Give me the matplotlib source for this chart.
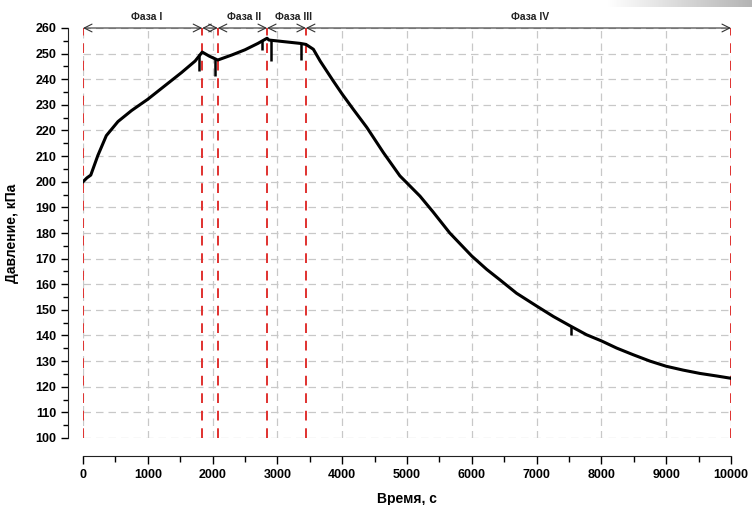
import numpy as np
import matplotlib
matplotlib.use('Agg')
import matplotlib.pyplot as plt
from matplotlib.ticker import MultipleLocator
from matplotlib.colors import LinearSegmentedColormap

plt.rcParams['font.family'] = ['Liberation Sans', 'DejaVu Sans']

# Pressure curve (time in s, pressure in kPa)
time_s = [0, 60, 120, 230, 360, 540, 750, 1000, 1260, 1520,
          1730, 1840, 1950, 2080, 2300, 2500, 2700, 2840, 2870, 3090,
          3350, 3440, 3555, 3660, 3860, 4000, 4170, 4380, 4635, 4890,
          5000, 5200, 5400, 5660, 6000, 6230, 6435, 6690, 7000, 7260,
          7515, 7770, 8000, 8235, 8490, 8750, 9000, 9260, 9520, 9780,
          10000]
pressure = [200.0, 201.5, 202.6, 210.3, 218.0, 223.5, 227.8, 232.2, 237.4, 242.6,
            247.1, 250.6, 249.0, 247.5, 249.5, 251.5, 254.0, 256.0, 255.3, 254.7,
            254.0, 253.6, 251.7, 247.1, 239.4, 234.2, 228.3, 221.2, 211.4, 202.3,
            199.5, 194.4, 188.3, 180.0, 171.0, 165.8, 161.7, 156.5, 151.5, 147.4,
            143.8, 140.3, 137.9, 135.1, 132.5, 130.0, 128.0, 126.5, 125.2, 124.2,
            123.3]

# short downward spikes on the curve
spike_t = [1790, 2037, 2762, 2905, 3358, 7526]
spike_top = [249.8, 248.0, 255.5, 255.5, 254.0, 143.9]
spike_bottom = [243.2, 241.4, 251.4, 247.3, 247.5, 140.3]

# phase boundaries and labels
boundaries = [0, 1840, 2080, 2840, 3440, 10000]
phase_labels = ['Фаза I', 'Фаза II', 'Фаза III', 'Фаза IV']
phase_label_t = [980, 2480, 3250, 6900]

fig = plt.figure(figsize=(7.52, 5.05), dpi=100)
ax = fig.add_axes([83 / 752, 67 / 505, 648 / 752, 410 / 505])

ax.plot(time_s, pressure, color='black', lw=2.2, solid_joinstyle='round', zorder=4)
ax.vlines(spike_t, spike_bottom, spike_top, color='black', lw=1.8, zorder=4)

for b in boundaries:
    ax.axvline(b, color='#e0312f', ls=(0, (5, 4)), lw=1.4, zorder=3)

ax.set_xlim(0, 10000)
ax.set_ylim(100, 260)
ax.xaxis.set_major_locator(MultipleLocator(1000))
ax.xaxis.set_minor_locator(MultipleLocator(500))
ax.yaxis.set_major_locator(MultipleLocator(10))
ax.yaxis.set_minor_locator(MultipleLocator(5))
ax.grid(True, which='major', color='#c8c8c8', ls=(0, (6, 4)), lw=0.9, zorder=1)

for s in ['top', 'right']:
    ax.spines[s].set_visible(False)
ax.spines['left'].set_position(('outward', 11))
ax.spines['bottom'].set_position(('outward', 13))
ax.spines['left'].set_color('#222222')
ax.spines['bottom'].set_color('#222222')

ax.tick_params(axis='x', which='major', direction='out', length=6, width=1, labelsize=9, pad=3)
ax.tick_params(axis='x', which='minor', direction='out', length=4, width=1)
ax.tick_params(axis='y', which='major', direction='out', length=5, width=1, labelsize=9, pad=3)
ax.tick_params(axis='y', which='minor', direction='out', length=3.5, width=1)
plt.setp(ax.get_xticklabels() + ax.get_yticklabels(), fontweight='bold')

ax.set_xlabel('Время, с', fontsize=10, fontweight='bold', labelpad=8)
ax.set_ylabel('Давление, кПа', fontsize=10, fontweight='bold', labelpad=12)

# phase arrows along the top
for a, b in zip(boundaries[:-1], boundaries[1:]):
    ax.annotate('', xy=(b, 260), xytext=(a, 260), annotation_clip=False,
                arrowprops=dict(arrowstyle='<->', lw=0.8, color='#333333',
                                shrinkA=0, shrinkB=0, mutation_scale=14))
for t, lab in zip(phase_label_t, phase_labels):
    ax.text(t, 264.4, lab, ha='center', va='center', fontsize=7.5,
            fontweight='bold', color='#222222', clip_on=False)

# grey band in the top-right corner
gax = fig.add_axes([607 / 752, 1 - 7 / 505, 145 / 752, 7 / 505])
cmap = LinearSegmentedColormap.from_list('band', ['#ffffff', '#b4b4b4'])
gax.imshow(np.linspace(0, 1, 100)[None, :], cmap=cmap, aspect='auto')
gax.axis('off')

fig.savefig('out.png', dpi=100)
